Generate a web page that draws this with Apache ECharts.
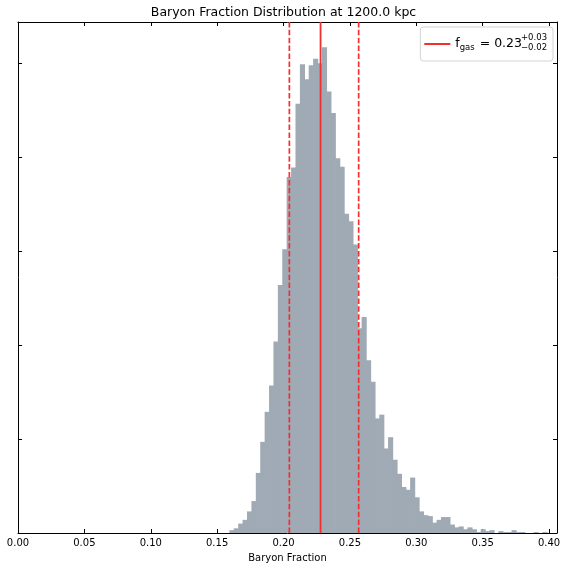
<!DOCTYPE html>
<html lang="en">

<head>
    <meta charset="UTF-8">
    <title>Baryon Fraction Distribution</title>
    <style>
        body {
            margin: 0;
        }

        #chart {
            width: 567px;
            height: 568px;
        }
    </style>
</head>

<body>
    <div id="chart"></div>
    <script src="https://cdn.jsdelivr.net/npm/echarts@6/dist/echarts.min.js"></script>
    <script>
        // histogram bins (regular), counts
        const binStart = 0.1592;
        const binWidth = 0.003321;
        const counts = [
            3, 5, 10, 14, 23, 34, 64, 97, 129, 157, 204, 264, 302, 379, 389, 457,
            499, 483, 498, 505, 500, 517, 470, 447, 399, 390, 340, 332, 307, 218,
            230, 184, 161, 122, 126, 90, 102, 78, 63, 49, 46, 59, 38, 23, 19, 18,
            11, 14, 17, 17, 9, 6, 7, 4, 6, 4, 1, 4, 2, 3, 0, 2, 1, 1, 3, 1, 1,
            0, 0, 1, 0, 1
        ];

        const median = 0.2279;
        const lower = 0.2044;
        const upper = 0.2566;

        const xTicks = [0, 0.05, 0.10, 0.15, 0.20, 0.25, 0.30, 0.35, 0.40];

        const font = 'DejaVu Sans';
        const barColor = '#a0aab5';
        const red = '#f23030';
        const yMax = 544;
        const xMax = 0.406;

        const chart = echarts.init(document.getElementById('chart'));

        const histData = counts.map((c, i) => [binStart + i * binWidth, binStart + (i + 1) * binWidth, c]);

        function renderBin(params, api) {
            const p0 = api.coord([api.value(0), api.value(2)]);
            const p1 = api.coord([api.value(1), 0]);
            // small overlap so neighbouring bins join without seams
            return {
                type: 'rect',
                shape: { x: p0[0], y: p0[1], width: p1[0] - p0[0] + 0.7, height: p1[1] - p0[1] },
                style: { fill: barColor }
            };
        }

        const tickStyle = { show: true, inside: true, length: 4, lineStyle: { color: '#000', width: 1 } };
        const lineStyle = { show: true, onZero: false, lineStyle: { color: '#000', width: 1 } };

        function vline(x, name, type, width) {
            return {
                name: name,
                type: 'line',
                symbol: 'none',
                silent: true,
                z: 5,
                data: [[x, 0], [x, yMax]],
                lineStyle: { color: red, width: width, type: type },
                itemStyle: { color: red }
            };
        }

        const option = {
            animation: false,
            textStyle: { fontFamily: font },
            title: {
                text: 'Baryon Fraction Distribution at 1200.0 kpc',
                left: 'center',
                top: 6,
                padding: 0,
                textStyle: { fontSize: 12.5, fontWeight: 'normal', color: '#000', fontFamily: font }
            },
            legend: {
                data: ['median'],
                right: 14,
                top: 27,
                padding: [9, 31, 9, 4],
                icon: 'rect',
                itemWidth: 26,
                itemHeight: 2,
                itemGap: 5,
                borderColor: '#d4d4d4',
                borderWidth: 1,
                borderRadius: 3,
                backgroundColor: '#fff',
                formatter: () => '{m|f}{s|gas}{m| = 0.23}',
                textStyle: {
                    lineHeight: 14,
                    rich: {
                        m: { fontSize: 12.5, color: '#000', fontFamily: font, lineHeight: 14 },
                        s: { fontSize: 8.5, color: '#000', fontFamily: font, padding: [7, 1, 0, 0], lineHeight: 14 }
                    }
                }
            },
            graphic: [
                { type: 'text', z: 100, left: 521, top: 33, style: { text: '+0.03', fontSize: 8.5, fill: '#000', fontFamily: font } },
                { type: 'text', z: 100, left: 521, top: 43, style: { text: '\u22120.02', fontSize: 8.5, fill: '#000', fontFamily: font } }
            ],
            grid: { left: 18, right: 10, top: 22, bottom: 35 },
            xAxis: [
                {
                    type: 'value',
                    min: 0,
                    max: xMax,
                    interval: 0.05,
                    axisLine: lineStyle,
                    axisTick: tickStyle,
                    splitLine: { show: false },
                    axisLabel: {
                        color: '#000',
                        fontSize: 10,
                        margin: 5,
                        showMaxLabel: false,
                        formatter: v => xTicks.some(t => Math.abs(t - v) < 1e-6) ? v.toFixed(2) : ''
                    },
                    name: 'Baryon Fraction',
                    nameLocation: 'middle',
                    nameGap: 20,
                    nameTextStyle: { color: '#000', fontSize: 10 }
                },
                {
                    type: 'value',
                    position: 'top',
                    min: 0,
                    max: xMax,
                    interval: 0.05,
                    axisLine: lineStyle,
                    axisTick: tickStyle,
                    splitLine: { show: false },
                    axisLabel: { show: false }
                }
            ],
            yAxis: [
                {
                    type: 'value',
                    min: 0,
                    max: yMax,
                    interval: 100,
                    axisLine: lineStyle,
                    axisTick: tickStyle,
                    splitLine: { show: false },
                    axisLabel: { show: false }
                },
                {
                    type: 'value',
                    position: 'right',
                    min: 0,
                    max: yMax,
                    interval: 100,
                    axisLine: lineStyle,
                    axisTick: tickStyle,
                    splitLine: { show: false },
                    axisLabel: { show: false }
                }
            ],
            series: [
                {
                    type: 'custom',
                    renderItem: renderBin,
                    encode: { x: [0, 1], y: 2 },
                    data: histData,
                    clip: true,
                    silent: true
                },
                vline(median, 'median', 'solid', 1.8),
                vline(lower, 'lower', [5.5, 2.4], 1.7),
                vline(upper, 'upper', [5.5, 2.4], 1.7)
            ]
        };

        chart.setOption(option);
    </script>
</body>

</html>
